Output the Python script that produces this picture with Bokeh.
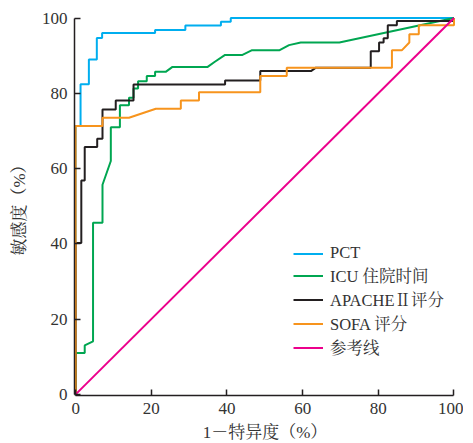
from bokeh.plotting import figure
from bokeh.models import Range1d, Legend, LegendItem, FixedTicker
from bokeh.embed import file_html
from bokeh.resources import INLINE

# ---- data (1-specificity %, sensitivity %) ----
pct_x = [0, 0, 1.3, 1.3, 3.5, 3.5, 5.6, 5.6, 7.0, 7.0, 21.0, 21.0, 29.0, 29.0, 38.4, 38.4, 41.0, 41.0, 100]
pct_y = [0, 71.3, 71.3, 82.4, 82.4, 89.0, 89.0, 94.7, 94.7, 96.0, 96.0, 96.8, 96.8, 98.0, 98.0, 99.0, 99.0, 100, 100]

icu_x = [0, 0, 2.4, 2.4, 4.6, 4.6, 7.1, 7.1, 9.3, 9.3, 11.7, 11.7, 14.1, 14.1, 15.3, 15.3, 16.5, 16.5,
         18.8, 18.8, 21.0, 21.0, 23.8, 25.6, 34.9, 36.7, 39.5, 44.1, 46.5, 53.8, 56.4, 59.5, 69.7, 100]
icu_y = [0, 11.0, 11.0, 13.0, 14.1, 45.6, 45.6, 55.7, 62.0, 71.0, 71.0, 76.8, 76.8, 78.8, 78.8, 81.3, 81.3, 83.2,
         83.2, 84.6, 84.6, 85.7, 85.7, 87.0, 87.0, 88.3, 90.2, 90.2, 91.4, 91.4, 92.8, 93.5, 93.5, 100]

apache_x = [0, 0, 1.5, 1.5, 2.4, 2.4, 5.7, 5.7, 7.1, 7.1, 10.6, 10.6, 15.3, 15.3, 39.5, 39.5, 48.8, 48.8,
            62.2, 63.5, 78.0, 78.0, 80.2, 80.2, 81.4, 81.4, 82.5, 82.5, 84.9, 84.9, 99.6, 100]
apache_y = [0, 40.2, 40.2, 56.8, 56.8, 65.7, 65.7, 67.9, 67.9, 75.7, 75.7, 78.1, 78.1, 82.3, 82.3, 83.4, 83.4, 85.9,
            85.9, 86.8, 86.8, 91.2, 91.2, 93.5, 93.5, 94.6, 94.6, 98.1, 98.1, 99.2, 99.2, 100]

sofa_x = [0, 0, 7.1, 7.1, 14.1, 21.2, 27.8, 27.8, 32.6, 32.6, 48.8, 48.8, 55.8, 55.8, 83.6, 83.6, 86.2, 88.2,
          88.2, 90.7, 90.7, 100, 100]
sofa_y = [0, 71.3, 71.3, 73.5, 73.5, 75.9, 75.9, 78.1, 78.1, 80.3, 80.3, 84.6, 84.6, 86.8, 86.8, 91.4, 91.4, 93.5,
          95.7, 95.7, 98.1, 98.1, 100]

ref_x = [0, 100]
ref_y = [0, 100]

labels = ["PCT", "ICU 住院时间", "APACHEⅡ评分", "SOFA 评分", "参考线"]
colors = ["#00aeef", "#00a651", "#231f20", "#f7941d", "#ec008c"]
ticks = [0, 20, 40, 60, 80, 100]

SERIF = "'Liberation Serif', 'Noto Serif CJK SC', 'Noto Sans CJK SC'"

p = figure(frame_width=381, frame_height=379,
           min_border_left=74, min_border_right=8, min_border_top=16, min_border_bottom=46,
           x_range=Range1d(-0.3, 100.4), y_range=Range1d(-0.3, 100.4),
           output_backend="svg", toolbar_location=None)
p.outline_line_color = None
p.grid.visible = False
p.background_fill_color = "white"
p.border_fill_color = "white"

series = [(pct_x, pct_y), (icu_x, icu_y), (apache_x, apache_y), (sofa_x, sofa_y), (ref_x, ref_y)]
rends = []
for (xs, ys), c in zip(series, colors):
    r = p.line(xs, ys, line_color=c, line_width=2)
    rends.append(r)

for ax in (p.xaxis[0], p.yaxis[0]):
    ax.bounds = (0, 100)
    ax.ticker = FixedTicker(ticks=ticks)
    ax.axis_line_color = "#231f20"
    ax.axis_line_width = 1.5
    ax.major_tick_line_color = "#231f20"
    ax.major_tick_line_width = 1.5
    ax.major_tick_in = 6
    ax.major_tick_out = 0
    ax.minor_tick_line_color = None
    ax.major_label_text_font = "Liberation Serif"
    ax.major_label_text_font_size = "17px"
    ax.major_label_text_color = "#333333"
    ax.axis_label_text_font = SERIF
    ax.axis_label_text_font_size = "17px"
    ax.axis_label_text_font_style = "normal"
    ax.axis_label_text_color = "#333333"

p.xaxis[0].axis_label = "1－特异度（%）"
p.yaxis[0].axis_label = "敏感度（%）"
p.xaxis[0].major_label_standoff = 7
p.xaxis[0].axis_label_standoff = 6
p.yaxis[0].major_label_standoff = 7
p.yaxis[0].axis_label_standoff = 10

legend = Legend(items=[LegendItem(label=l, renderers=[r]) for l, r in zip(labels, rends)],
                location=(219, 36), orientation="vertical",
                padding=0, margin=0, spacing=0,
                glyph_width=30, glyph_height=17, label_height=17, label_standoff=7,
                label_text_font=SERIF, label_text_font_size="16.5px", label_text_color="#333333",
                border_line_color=None, background_fill_alpha=0)
p.add_layout(legend)

open("out.html", "w").write(file_html(p, INLINE))
